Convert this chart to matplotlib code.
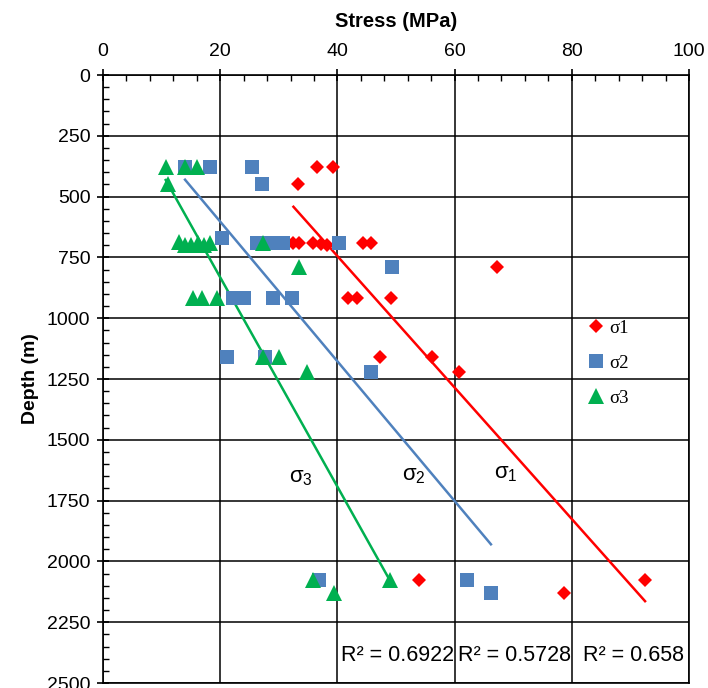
import numpy as np
import matplotlib
matplotlib.use("Agg")
import matplotlib.pyplot as plt
from matplotlib.ticker import MultipleLocator

plt.rcParams['font.family'] = ['Liberation Sans', 'DejaVu Sans']
plt.rcParams['mathtext.fontset'] = 'custom'
plt.rcParams['mathtext.rm'] = 'Liberation Sans'
plt.rcParams['mathtext.it'] = 'Liberation Sans:italic'

# sigma1 (red diamonds)
s1_stress = [36.5, 39.3, 33.2, 32.5, 33.5, 35.8, 37.2, 38.3, 44.3, 45.8, 67.2,
             41.8, 43.3, 49.2, 47.3, 56.1, 60.8, 53.9, 78.7, 92.5]
s1_depth = [380, 380, 450, 690, 690, 690, 695, 700, 690, 690, 790,
            915, 915, 915, 1160, 1160, 1220, 2075, 2130, 2075]

# sigma2 (blue squares)
s2_stress = [14.0, 18.2, 25.4, 27.1, 20.3, 26.3, 27.3, 29.0, 30.7, 40.2, 49.3,
             22.2, 24.0, 29.0, 32.2, 21.2, 27.6, 45.7, 36.9, 62.1, 66.2]
s2_depth = [380, 380, 380, 450, 670, 690, 690, 690, 690, 690, 790,
            915, 915, 915, 915, 1160, 1160, 1220, 2075, 2075, 2130]

# sigma3 (green triangles)
s3_stress = [10.7, 14.0, 16.0, 11.1, 13.0, 14.0, 15.0, 16.2, 17.2, 18.3, 27.3,
             33.4, 15.3, 16.9, 19.4, 27.3, 30.0, 34.8, 35.8, 49.0, 39.4]
s3_depth = [380, 380, 380, 450, 685, 700, 700, 690, 700, 690, 690,
            790, 915, 915, 915, 1160, 1160, 1220, 2075, 2075, 2130]

legend_labels = ['σ1', 'σ2', 'σ3']
r2_labels = ['R² = 0.6922', 'R² = 0.5728', 'R² = 0.658']
sigma_names = [r'$\mathrm{\sigma}_3$', r'$\mathrm{\sigma}_2$', r'$\mathrm{\sigma}_1$']

red = '#FF0000'
blue = '#4F81BD'
green = '#00B050'

fig = plt.figure(figsize=(7.08, 6.88), dpi=100)
ax = fig.add_axes([103/708, 1-683/688, (689-103)/708, (683-75)/688])

ax.set_xlim(0, 100)
ax.set_ylim(2500, 0)
ax.xaxis.set_major_locator(MultipleLocator(20))
ax.xaxis.set_minor_locator(MultipleLocator(4))
ax.yaxis.set_major_locator(MultipleLocator(250))
ax.yaxis.set_minor_locator(MultipleLocator(50))
ax.xaxis.tick_top()
ax.xaxis.set_label_position('top')
ax.grid(True, which='major', color='black', linewidth=1.1)
ax.set_axisbelow(True)
ax.tick_params(which='major', direction='inout', length=8, width=1.2, labelsize=14)
ax.tick_params(axis='x', which='major', pad=7)
ax.tick_params(axis='y', which='major', pad=5)
ax.tick_params(which='minor', direction='in', length=4, width=1.0)
ax.tick_params(axis='x', which='both', top=True, bottom=False)
ax.tick_params(axis='y', which='both', left=True, right=False)
for sp in ax.spines.values():
    sp.set_color('black')
    sp.set_linewidth(1.2)

ax.set_xlabel('Stress (MPa)', fontsize=14.5, fontweight='bold', labelpad=11)
ax.set_ylabel('Depth (m)', fontsize=14, fontweight='bold', labelpad=6)

series = [
    (s1_stress, s1_depth, red, 'D', 7.5),
    (s2_stress, s2_depth, blue, 's', 10),
    (s3_stress, s3_depth, green, '^', 11),
]
handles = []
for xs, ys, c, m, ms in series:
    h, = ax.plot(xs, ys, linestyle='none', marker=m, color=c, markersize=ms,
                 markeredgewidth=0, clip_on=False, zorder=3)
    handles.append(h)

for xs, ys, c, m, ms in series:
    xs_a = np.array(xs)
    ys_a = np.array(ys)
    a, b = np.polyfit(xs_a, ys_a, 1)
    xx = np.array([xs_a.min(), xs_a.max()])
    ax.plot(xx, a * xx + b, color=c, linewidth=1.8, zorder=2)

leg = ax.legend(handles, legend_labels, loc='upper left', bbox_to_anchor=(0.81, 0.61),
                frameon=False, prop={'family': 'Liberation Serif', 'size': 13.5},
                handletextpad=0.1, labelspacing=0.95, handlelength=1.2, borderaxespad=0)

# sigma labels near trend lines
sig_pos_x = [33.7, 53.0, 68.7]
sig_pos_y = [1657, 1645, 1637]
for t, x, y in zip(sigma_names, sig_pos_x, sig_pos_y):
    ax.text(x, y, t, fontsize=16, ha='center', va='center')

# R^2 labels
r2_x = [50.2, 70.3, 90.6]
for t, x in zip(r2_labels, r2_x):
    ax.text(x, 2385, t, fontsize=15.5, ha='center', va='center')

fig.savefig('out.png', dpi=100)
